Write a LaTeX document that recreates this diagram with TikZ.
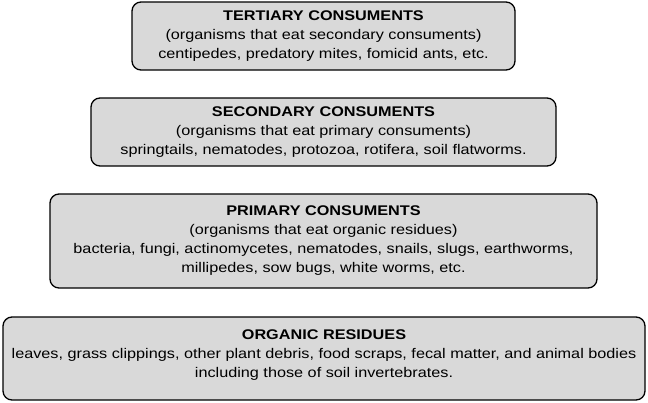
\documentclass[tikz,border=0pt]{standalone}
\usepackage{fontspec}
\setmainfont{Liberation Sans}[FakeStretch=1.16]
\usepackage{tikz}

\begin{document}
\begin{tikzpicture}[x=1pt,y=-1pt,
    level/.style={draw,
    rectangle,
    rounded corners=9pt,
    line width=1.3pt,
    fill=black!15,
    align=center,
    font=\fontsize{14}{19}\selectfont}]
    \useasboundingbox (0,0) rectangle (648,402);

    % Tertiary consuments
    \node [level,
    minimum width=383pt,
    minimum height=68pt] (tert) at (323.5,36){\textbf{TERTIARY CONSUMENTS}\\
    (organisms that eat secondary consuments)\\
    centipedes, predatory mites, fomicid ants, etc.};

    % Secondary consuments
    \node [level,
    minimum width=465pt,
    minimum height=68pt] (sec) at (323.5,132){\textbf{SECONDARY CONSUMENTS}\\
    (organisms that eat primary consuments)\\
    springtails, nematodes, protozoa, rotifera, soil flatworms.};

    % Primary consuments
    \node [level,
    minimum width=547pt,
    minimum height=94pt] (prim) at (323.5,241){\textbf{PRIMARY CONSUMENTS}\\
    (organisms that eat organic residues)\\
    bacteria, fungi, actinomycetes, nematodes, snails, slugs, earthworms,\\
    millipedes, sow bugs, white worms, etc.};

    % Organic residues
    \node [level,
    text depth=9pt,
    minimum width=642pt,
    minimum height=83pt] (resid) at (324,358.5){\textbf{ORGANIC RESIDUES}\\
    leaves, grass clippings, other plant debris, food scraps, fecal matter, and animal bodies\\
    including those of soil invertebrates.};
\end{tikzpicture}
\end{document}
